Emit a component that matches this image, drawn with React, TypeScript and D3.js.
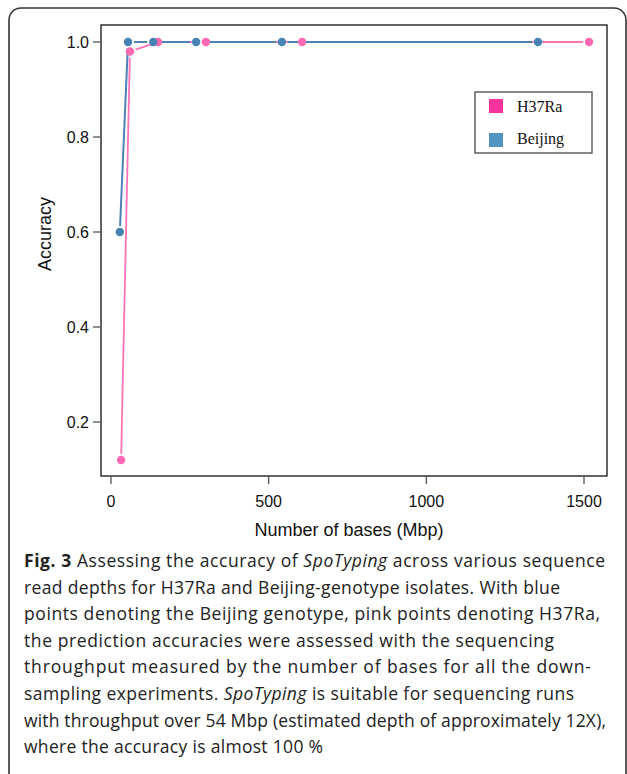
import React from "react";
import * as d3 from "d3";

// values (Mbp vs accuracy)
const beijingX = [28, 54, 134, 270, 542, 1354];
const beijingY = [0.6, 1.0, 1.0, 1.0, 1.0, 1.0];
const h37raX = [32, 60, 149, 301, 606, 1516];
const h37raY = [0.12, 0.98, 1.0, 1.0, 1.0, 1.0];

const xTicks = [0, 500, 1000, 1500];
const yTicks = [0.2, 0.4, 0.6, 0.8, 1.0];
const seriesNames = ["H37Ra", "Beijing"];

const captionLines = [
  [["b", "Fig. 3"], ["n", " Assessing the accuracy of "], ["i", "SpoTyping"], ["n", " across various sequence"]],
  [["n", "read depths for H37Ra and Beijing-genotype isolates. With blue"]],
  [["n", "points denoting the Beijing genotype, pink points denoting H37Ra,"]],
  [["n", "the prediction accuracies were assessed with the sequencing"]],
  [["n", "throughput measured by the number of bases for all the down-"]],
  [["n", "sampling experiments. "], ["i", "SpoTyping"], ["n", " is suitable for sequencing runs"]],
  [["n", "with throughput over 54 Mbp (estimated depth of approximately 12X),"]],
  [["n", "where the accuracy is almost 100 %"]],
];
// right edge of each caption line in the reference (justified-ish block)
const captionRight = [605, 560, 600, 554, 591, 574, 606, 323];

const W = 627;
const H = 774;
const box = { left: 101, top: 25, right: 607, bottom: 476 };

const x = d3.scaleLinear().domain([0, 1500]).range([111, 584]);
const y = d3.scaleLinear().domain([0.2, 1.0]).range([422, 42]);

const GAP = 6;

// R type="b": segments stop short of each point
function gappedSegments(xs: number[], ys: number[]) {
  const pts = xs.map((v, i) => [x(v), y(ys[i])]);
  const segs: string[] = [];
  for (let i = 0; i < pts.length - 1; i++) {
    const [x0, y0] = pts[i];
    const [x1, y1] = pts[i + 1];
    const len = Math.hypot(x1 - x0, y1 - y0);
    if (len <= 2 * GAP) continue;
    const ux = (x1 - x0) / len;
    const uy = (y1 - y0) / len;
    segs.push(
      d3.line()([
        [x0 + ux * GAP, y0 + uy * GAP],
        [x1 - ux * GAP, y1 - uy * GAP],
      ]) as string
    );
  }
  return segs;
}

const pinkLine = "#ff74b9";
const pinkPt = "#ff69b4";
const blueLine = "#4f80b6";
const bluePt = "#4682b4";

export default function App() {
  const axisFont = "'Liberation Sans', Arial, sans-serif";
  const capFont = "'Open Sans', 'Noto Sans', sans-serif";
  return (
    <svg
      width={W}
      height={H}
      style={{ position: "absolute", left: 0, top: 0, background: "#fff" }}
    >
      {/* outer frame */}
      <rect x={9} y={8} width={617} height={790} rx={12} fill="none" stroke="#333" strokeWidth={1.6} />

      {/* plot box */}
      <rect
        x={box.left}
        y={box.top}
        width={box.right - box.left}
        height={box.bottom - box.top}
        fill="none"
        stroke="#111"
        strokeWidth={1.3}
      />

      {/* y axis */}
      {yTicks.map((t) => (
        <g key={"y" + t}>
          <line x1={93} x2={box.left} y1={y(t)} y2={y(t)} stroke="#555" strokeWidth={1.3} />
          <text x={89} y={y(t)} dy="0.35em" textAnchor="end" fontFamily={axisFont} fontSize={16} fill="#111">
            {t.toFixed(1)}
          </text>
        </g>
      ))}
      <text
        transform={`translate(45, 234) rotate(-90)`}
        textAnchor="middle"
        dy="0.35em"
        fontFamily={axisFont}
        fontSize={18}
        fill="#111"
      >
        Accuracy
      </text>

      {/* x axis */}
      {xTicks.map((t) => (
        <g key={"x" + t}>
          <line x1={x(t)} x2={x(t)} y1={box.bottom} y2={box.bottom + 8} stroke="#555" strokeWidth={1.3} />
          <text x={x(t)} y={501} dy="0.35em" textAnchor="middle" fontFamily={axisFont} fontSize={16} fill="#111">
            {t}
          </text>
        </g>
      ))}
      <text x={349} y={536} textAnchor="middle" fontFamily={axisFont} fontSize={18} fill="#111">
        Number of bases (Mbp)
      </text>

      {/* series */}
      {gappedSegments(h37raX, h37raY).map((d, i) => (
        <path key={"pl" + i} d={d} stroke={pinkLine} strokeWidth={1.8} fill="none" />
      ))}
      {gappedSegments(beijingX, beijingY).map((d, i) => (
        <path key={"bl" + i} d={d} stroke={blueLine} strokeWidth={2} fill="none" />
      ))}
      {h37raX.map((v, i) => (
        <circle key={"pp" + i} cx={x(v)} cy={y(h37raY[i])} r={4.2} fill={pinkPt} />
      ))}
      {beijingX.map((v, i) => (
        <circle key={"bp" + i} cx={x(v)} cy={y(beijingY[i])} r={4.2} fill={bluePt} />
      ))}

      {/* legend */}
      <rect x={475} y={92} width={117} height={61} fill="#fff" stroke="#555" strokeWidth={1.4} />
      {seriesNames.map((name, i) => (
        <g key={name}>
          <rect x={489} y={99 + i * 34} width={14} height={14} fill={i === 0 ? "#f8349c" : "#5293c3"} />
          <text
            x={517}
            y={112 + i * 32}
            fontFamily="'Liberation Serif', 'Times New Roman', serif"
            fontSize={16}
            fill="#111"
          >
            {name}
          </text>
        </g>
      ))}

      {/* caption */}
      {captionLines.map((parts, li) => (
        <text
          key={"c" + li}
          x={24}
          y={567 + li * 26.6}
          fontFamily={capFont}
          fontSize={17.5}
          textLength={captionRight[li] - 24}
          lengthAdjust="spacing"
          fill="#222"
        >
          {parts.map(([kind, s], pi) => (
            <tspan
              key={pi}
              fontWeight={kind === "b" ? 700 : 400}
              fontStyle={kind === "i" ? "italic" : "normal"}
            >
              {s}
            </tspan>
          ))}
        </text>
      ))}
    </svg>
  );
}
